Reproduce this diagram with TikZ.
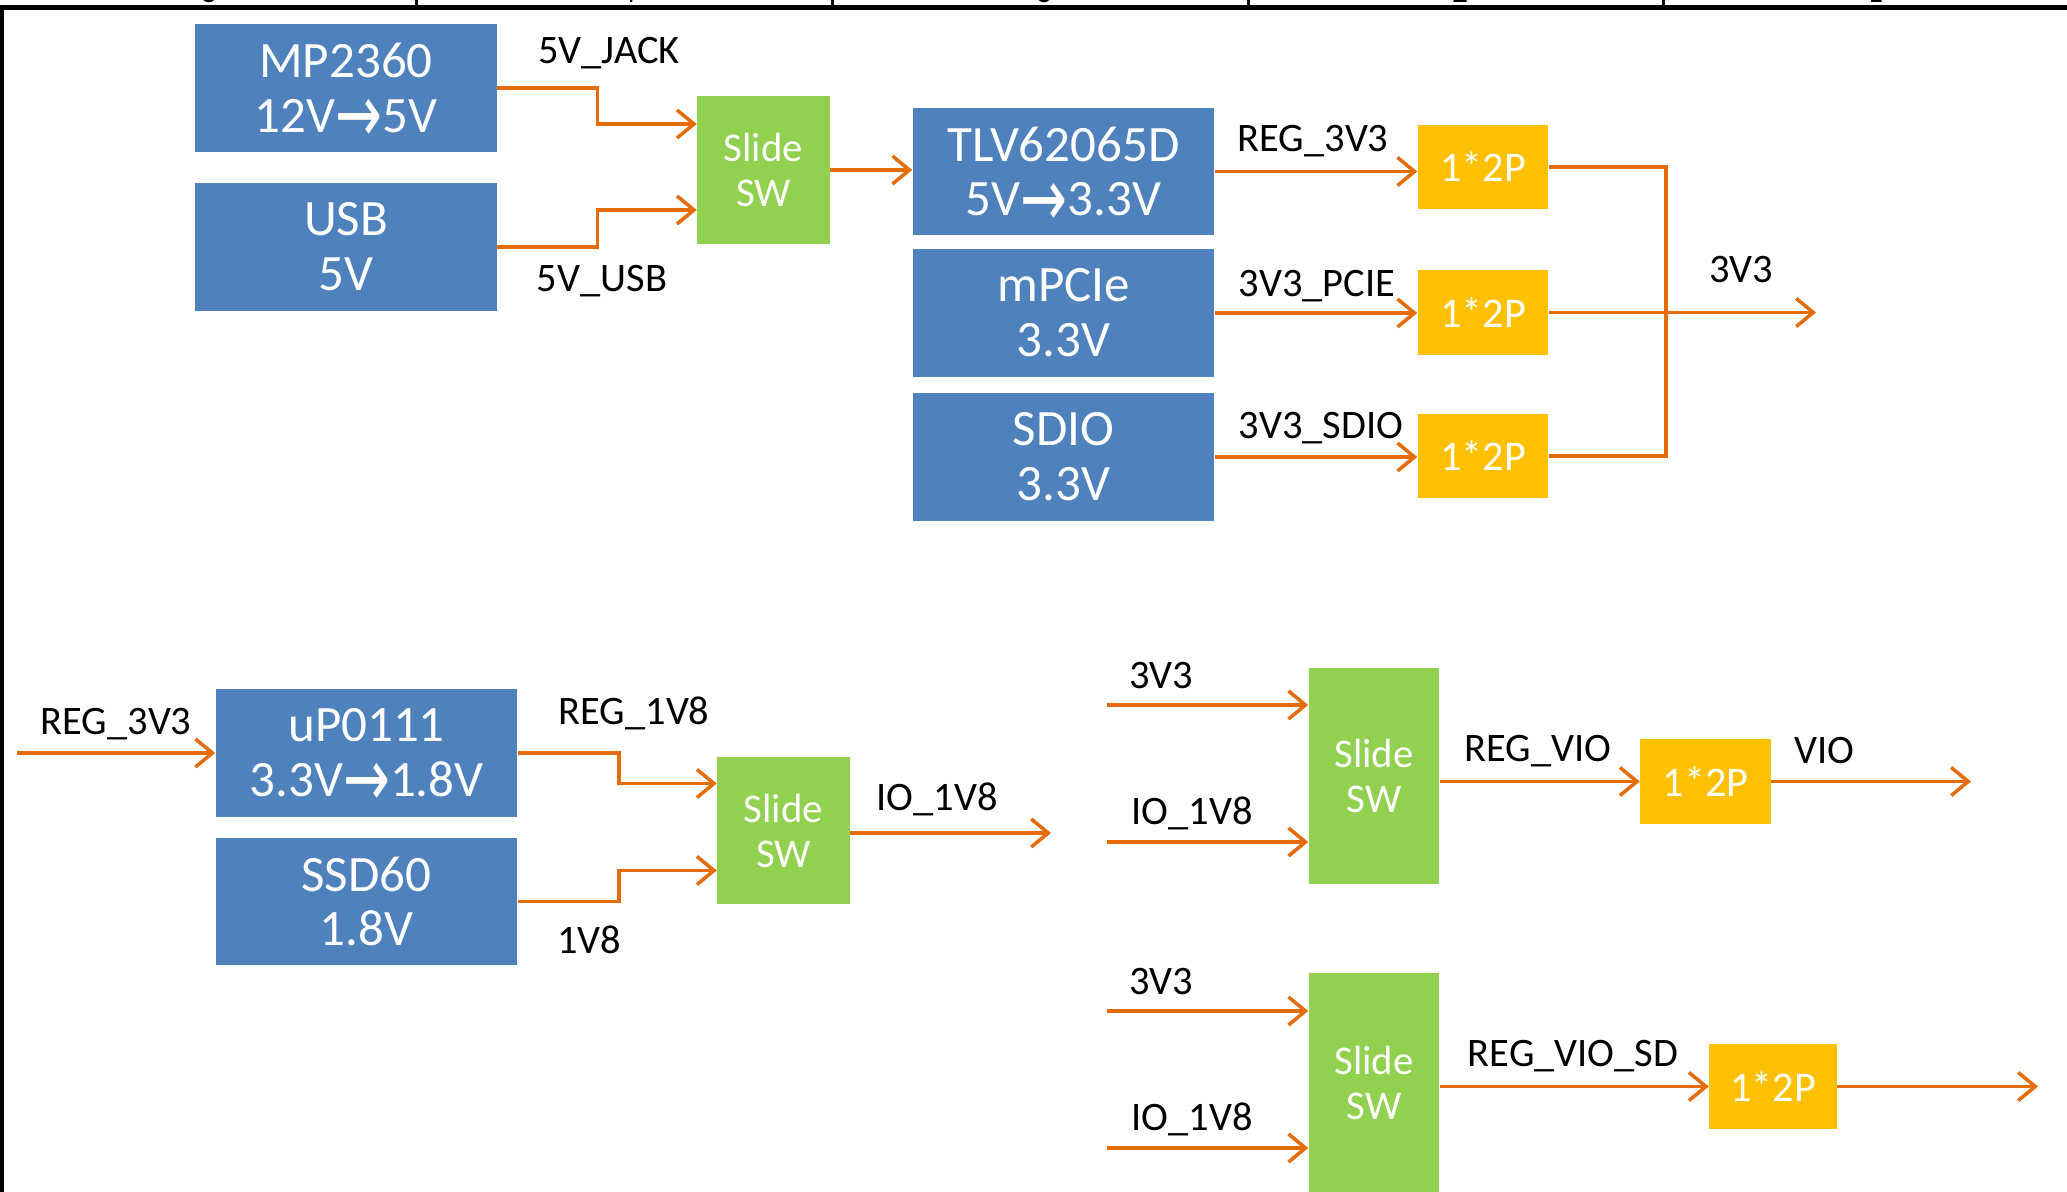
\documentclass[tikz,border=0pt]{standalone}
\usepackage{fontspec}
\usepackage{graphicx}
\setmainfont{Carlito}
\newfontfamily\arrowfont{DejaVu Sans}
\usetikzlibrary{positioning,arrows.meta,calc}
\definecolor{cBlock}{RGB}{79,129,189}
\definecolor{cSwitch}{RGB}{146,208,80}
\definecolor{cHeader}{RGB}{255,192,0}
\definecolor{cWire}{RGB}{228,108,10}
\newcommand{\conv}{\smash{\raisebox{-0.2em}{\scalebox{1.1}[1.6]{\arrowfont →}}}}

\begin{document}
\begin{tikzpicture}[x=0.01cm,y=-0.01cm,
   blk/.style={fill=cBlock,text=white,minimum width=3.01cm,minimum height=1.27cm,inner sep=0pt,align=center,font=\fontsize{14.5}{15.6}\selectfont},
   sw/.style={fill=cSwitch,text=white,minimum width=1.32cm,inner sep=0pt,align=center,font=\fontsize{11.6}{12.8}\selectfont},
   hdr/.style={fill=cHeader,text=white,minimum width=1.3cm,minimum height=0.84cm,inner sep=0pt,font=\fontsize{12}{14}\selectfont},
   lbl/.style={font=\fontsize{11.5}{13}\selectfont,inner sep=0pt},
   line/.style={draw=cWire,line width=1pt},
   wire/.style={line,-{Straight Barb[length=1.7mm,width=2.8mm]}}]
  \useasboundingbox (0,0) rectangle (2067,1192);
  % frame
  \draw[line width=0.45mm] (0,7.5) -- (2067,7.5);
  \draw[line width=0.4mm] (1.5,7.5) -- (1.5,1192);
  \foreach \x in {416,832,1248,1663}
    \draw[line width=0.3mm] (\x,0) -- (\x,7.5);
  \foreach \x/\d in {210/5,628/4,1044/3,1460/2,1875/1}
    \node[anchor=south,inner sep=0pt,font=\small] at (\x,3) {\d};
  % 5V / 3V3 supply
  \node[blk] (mp) at (346,88) {MP2360\\12V\conv5V};
  \node[blk] (usb) at (346,247) {USB\\5V};
  \node[sw,minimum height=1.48cm] (sw1) at (763.5,170) {Slide\\SW};
  \node[blk] (tlv) at (1063.5,171.5) {TLV62065D\\5V\conv3.3V};
  \node[blk] (pcie) at (1063.5,313) {mPCIe\\3.3V};
  \node[blk] (sdio) at (1063.5,457) {SDIO\\3.3V};
  \node[hdr] (p1) at (1483,167) {1*2P};
  \node[hdr] (p2) at (1483,312.5) {1*2P};
  \node[hdr] (p3) at (1483,456) {1*2P};
  \coordinate (jn) at (1666,312.5);
  \coordinate (out33) at (1816,312.5);
  \draw[wire] (mp.east) -- ++(100,0) |- ($(sw1.west)+(0,-46)$);
  \draw[wire] (usb.east) -- ++(100,0) |- ($(sw1.west)+(0,40)$);
  \draw[wire] (sw1.east) -- (sw1.east -| tlv.west);
  \draw[wire] (tlv.east) -- (tlv.east -| p1.west);
  \draw[wire] (pcie.east) -- (pcie.east -| p2.west);
  \draw[wire] (sdio.east) -- (sdio.east -| p3.west);
  \draw[line] (p1.east) -| (jn) |- (p3.east);
  \draw[wire] (p2.east) -- (out33);
  \node[lbl] at (609,53) {5V\_JACK};
  \node[lbl] at (602,281) {5V\_USB};
  \node[lbl] at (1313,141) {REG\_3V3};
  \node[lbl] at (1317,286) {3V3\_PCIE};
  \node[lbl] at (1321,428) {3V3\_SDIO};
  \node[lbl] at (1741,270) {3V3};
  % 1V8 supply
  \coordinate (in33) at (17,753);
  \node[blk] (up) at (366.5,753) {uP0111\\3.3V\conv1.8V};
  \node[blk] (ssd) at (366.5,901.5) {SSD60\\1.8V};
  \node[sw,minimum height=1.47cm] (sw2) at (783.5,830.5) {Slide\\SW};
  \coordinate (io18) at (1051,833);
  \draw[wire] (in33) -- (up.west);
  \draw[wire] (up.east) -- ++(101,0) |- ($(sw2.west)+(0,-47)$);
  \draw[wire] (ssd.east) -- ++(101,0) |- ($(sw2.west)+(0,40)$);
  \draw[wire] (sw2.east |- io18) -- (io18);
  \node[lbl] at (116,724) {REG\_3V3};
  \node[lbl] at (634,713) {REG\_1V8};
  \node[lbl] at (589,940) {1V8};
  \node[lbl] at (937,799) {IO\_1V8};
  % VIO select
  \node[sw,minimum width=1.3cm,minimum height=2.16cm] (sw3) at (1374,776) {Slide\\SW};
  \node[hdr] (p4) at (1705.5,781.5) {1*2P};
  \coordinate (a33) at (1107,705);
  \coordinate (a18) at (1107,842);
  \coordinate (vio) at (1971,781.5);
  \draw[wire] (a33) -- (a33 -| sw3.west);
  \draw[wire] (a18) -- (a18 -| sw3.west);
  \draw[wire] (p4.west -| sw3.east) -- (p4.west);
  \draw[wire] (p4.east) -- (vio);
  \node[lbl] at (1161,676) {3V3};
  \node[lbl] at (1192,813) {IO\_1V8};
  \node[lbl] at (1538,751) {REG\_VIO};
  \node[lbl] at (1824,751) {VIO};
  % VIO_SD select
  \node[sw,minimum width=1.3cm,minimum height=2.19cm] (sw4) at (1374,1082.5) {Slide\\SW};
  \node[hdr,minimum width=1.27cm] (p5) at (1773,1086.5) {1*2P};
  \coordinate (b33) at (1107,1011);
  \coordinate (b18) at (1107,1148);
  \coordinate (viosd) at (2038,1086.5);
  \draw[wire] (b33) -- (b33 -| sw4.west);
  \draw[wire] (b18) -- (b18 -| sw4.west);
  \draw[wire] (p5.west -| sw4.east) -- (p5.west);
  \draw[wire] (p5.east) -- (viosd);
  \node[lbl] at (1161,982) {3V3};
  \node[lbl] at (1192,1119) {IO\_1V8};
  \node[lbl] at (1573,1056) {REG\_VIO\_SD};
\end{tikzpicture}
\end{document}
